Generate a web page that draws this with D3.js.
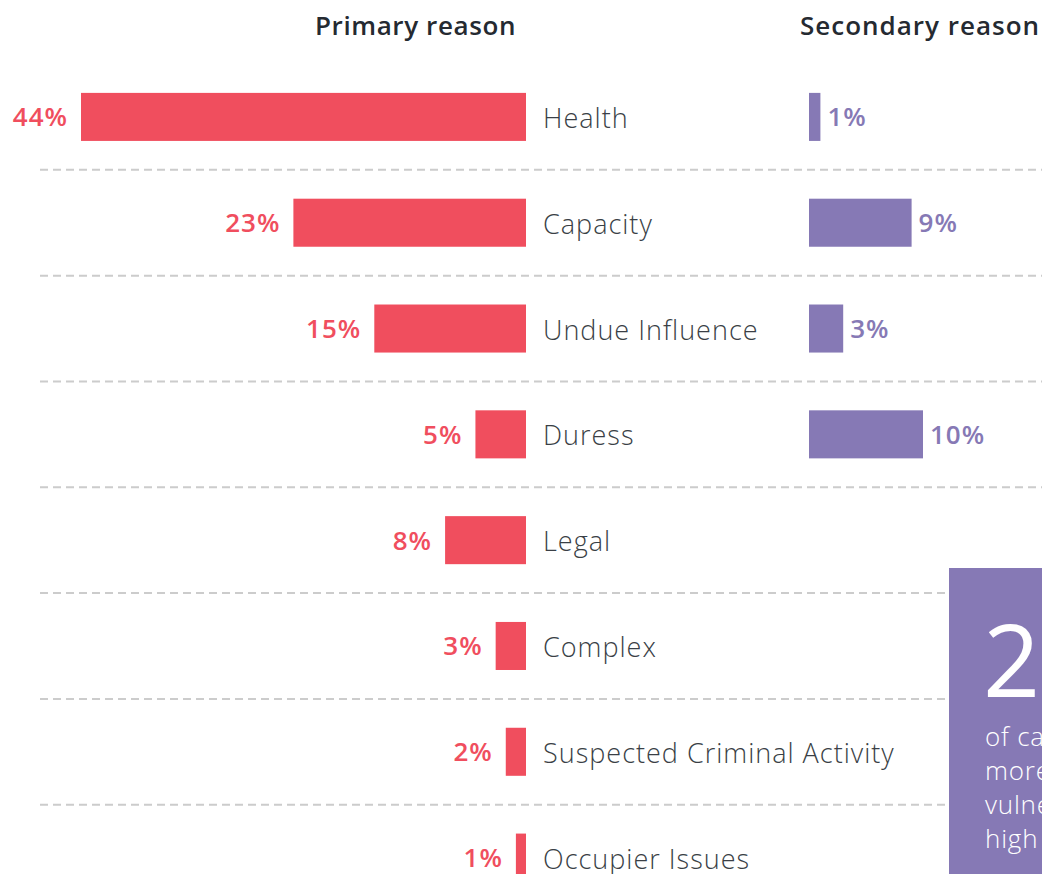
<!DOCTYPE html>
<html>
<head>
<meta charset="utf-8">
<script src="https://cdn.jsdelivr.net/npm/d3@7"></script>
<style>
  html, body { margin: 0; padding: 0; background: #fff; }
  svg { display: block; }
  text { font-family: "Open Sans", Lato, sans-serif; }
</style>
</head>
<body>
<svg id="chart" width="1042" height="874"></svg>
<script>
// Reasons for referral, share of cases
const categories = ["Health", "Capacity", "Undue Influence", "Duress", "Legal", "Complex", "Suspected Criminal Activity", "Occupier Issues"];
const primaryValues = [44, 23, 15, 5, 8, 3, 2, 1];
const secondaryValues = [1, 9, 3, 10, null, null, null, null];
const headers = ["Primary reason", "Secondary reason"];
const calloutNumber = "2";
const calloutLines = ["of cases", "more", "vulnerable", "high"];

const W = 1042, H = 874;
const RED = "#f04e5e", PURPLE = "#8679b5";

const svg = d3.select("#chart");

const y = d3.scaleBand()
  .domain(categories)
  .range([64, 910.5])
  .paddingInner(0.546)
  .paddingOuter(0.273);
const step = y.step();
const mid = c => y(c) + y.bandwidth() / 2;

// primary bars grow leftwards from the centre spine
const xL = d3.scaleLinear().domain([0, 44]).range([526, 81]);
// secondary bars grow rightwards
const xR = d3.scaleLinear().domain([0, 10]).range([809, 923]);

// dashed separators between rows
const sepY = categories.slice(1).map(c => y(c) - (step - y.bandwidth()) / 2);
svg.append("g").selectAll("line").data(sepY).join("line")
  .attr("x1", 40).attr("x2", W)
  .attr("y1", d => d).attr("y2", d => d)
  .attr("stroke", "#cccccc").attr("stroke-width", 2)
  .attr("stroke-dasharray", "8,5");

// headers
svg.append("text").text(headers[0])
  .attr("x", 516).attr("y", 35).attr("text-anchor", "end")
  .attr("font-size", 26).attr("font-weight", 600).attr("letter-spacing", 0.6).attr("fill", "#252a31");
svg.append("text").text(headers[1])
  .attr("x", 800).attr("y", 35)
  .attr("font-size", 26).attr("font-weight", 600).attr("letter-spacing", 1.0).attr("fill", "#252a31");

const rows = categories.map((c, i) => ({ c, p: primaryValues[i], s: secondaryValues[i] }));

// primary
svg.append("g").selectAll("rect").data(rows).join("rect")
  .attr("x", d => xL(d.p)).attr("y", d => y(d.c))
  .attr("width", d => xL(0) - xL(d.p)).attr("height", y.bandwidth())
  .attr("fill", RED);
svg.append("g").selectAll("text").data(rows).join("text")
  .text(d => d.p + "%")
  .attr("x", d => xL(d.p) - 13).attr("y", d => mid(d.c) + 9.5)
  .attr("text-anchor", "end")
  .attr("font-size", 26).attr("font-weight", 600).attr("letter-spacing", 1.0).attr("fill", RED);

// category labels
svg.append("g").selectAll("text").data(rows).join("text")
  .text(d => d.c)
  .attr("x", 543).attr("y", d => mid(d.c) + 11)
  .attr("font-size", 27).attr("font-weight", 300).attr("letter-spacing", 1.0).attr("fill", "#3a3f46");

// secondary
const sec = rows.filter(d => d.s != null);
svg.append("g").selectAll("rect").data(sec).join("rect")
  .attr("x", xR(0)).attr("y", d => y(d.c))
  .attr("width", d => xR(d.s) - xR(0)).attr("height", y.bandwidth())
  .attr("fill", PURPLE);
svg.append("g").selectAll("text").data(sec).join("text")
  .text(d => d.s + "%")
  .attr("x", d => xR(d.s) + 7).attr("y", d => mid(d.c) + 9.5)
  .attr("font-size", 26).attr("font-weight", 600).attr("letter-spacing", 1.0).attr("fill", PURPLE);

// callout panel
const box = svg.append("g");
box.append("rect").attr("x", 949).attr("y", 568).attr("width", W - 949 + 10).attr("height", H - 568 + 10)
  .attr("fill", PURPLE);
box.append("text").text(calloutNumber)
  .attr("x", 983).attr("y", 697)
  .attr("font-size", 100).attr("font-weight", 400).attr("fill", "#fff");
box.selectAll("text.line").data(calloutLines).join("text").attr("class", "line")
  .text(d => d)
  .attr("x", 985).attr("y", (d, i) => 746 + i * 34)
  .attr("font-size", 26).attr("font-weight", 300).attr("letter-spacing", 0.8).attr("fill", "#fff");
</script>
</body>
</html>
